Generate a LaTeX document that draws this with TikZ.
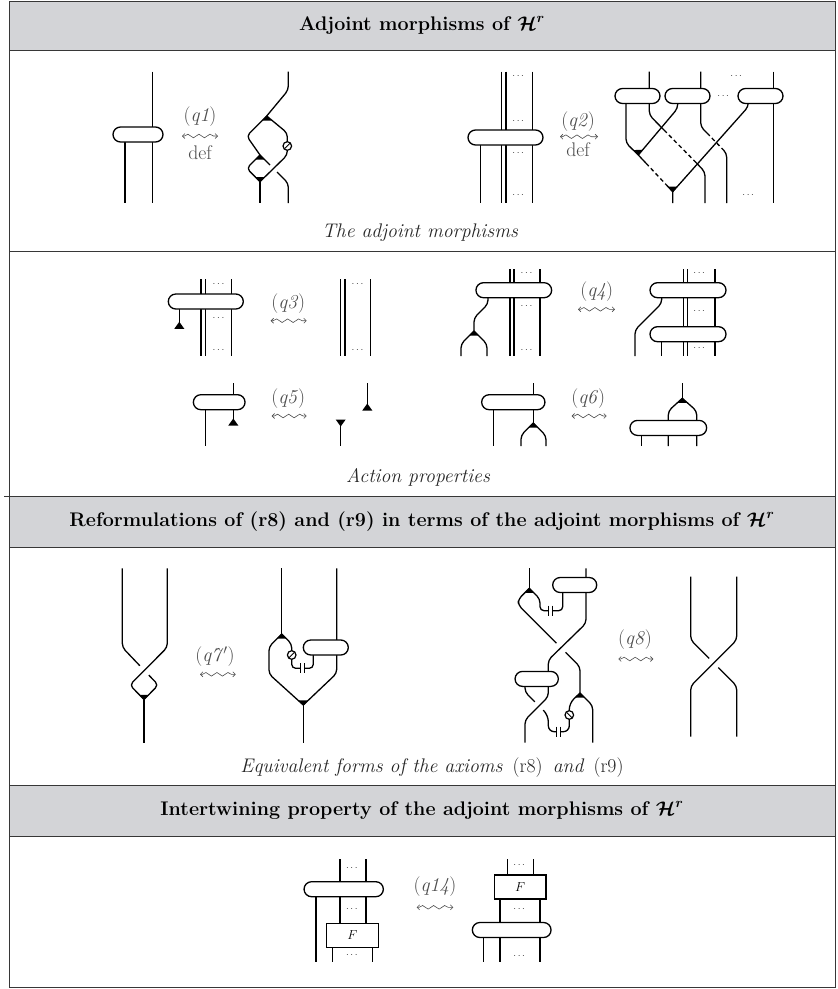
\RequirePackage{fix-cm}
\documentclass[tikz,border=0pt]{standalone}
\usepackage{amsmath,amssymb,bm}
\usetikzlibrary{decorations.pathmorphing,arrows.meta}
\definecolor{hdr}{RGB}{211,212,215}
\definecolor{frm}{RGB}{55,55,55}
\begin{document}
\begin{tikzpicture}[x=1pt,y=-1pt,
  st/.style={line width=1.3pt, line join=round},
  rc/.style={rounded corners=4pt},
  oval/.style={draw, line width=1.3pt, fill=white, rounded corners=7.5pt, minimum height=15pt, inner sep=0pt, outer sep=0pt},
  fbx/.style={draw, line width=1.3pt, fill=white, minimum height=24pt, inner sep=0pt, outer sep=0pt, font=\fontsize{13}{13}\selectfont},
  lab/.style={text=black!70, font=\fontsize{19.7}{20}\selectfont, inner sep=0pt},
  captn/.style={text=black!85, font=\fontsize{19.7}{20}\selectfont\itshape, inner sep=0pt},
  hd/.style={font=\fontsize{19.7}{20}\selectfont\bfseries, inner sep=0pt},
  dts/.style={text=black!80, font=\fontsize{10}{10}\selectfont, inner sep=0pt},
  sq/.style={black!70, line width=0.6pt, {Straight Barb[length=2.5pt,width=5pt]}-{Straight Barb[length=2.5pt,width=5pt]}, decorate, decoration={snake, amplitude=1.8pt, segment length=11pt, pre length=2.5pt, post length=2.5pt}},
  bord/.style={draw=frm, line width=1pt},
  dlt/.pic={\fill (0,-0.6)--(-4.8,4.6)--(4.8,4.6)--cycle;},
  mlt/.pic={\fill (0,0.6)--(-4.8,-4.6)--(4.8,-4.6)--cycle;},
  cnt/.pic={\fill (0,-6.5)--(-5,0.5)--(5,0.5)--cycle;},
  unt/.pic={\fill (0,6.5)--(-5,-0.5)--(5,-0.5)--cycle;},
  antR/.pic={\draw[line width=1.2pt, fill=white] (0,0) circle (4.3); \draw[line width=0.9pt] (-2.7,2.7)--(2.7,-2.7);},
  antL/.pic={\draw[line width=1.2pt, fill=white] (0,0) circle (4.3); \draw[line width=0.9pt] (-2.7,-2.7)--(2.7,2.7);},
  capH/.pic={\fill[white] (-1.8,-5) rectangle (1.8,5); \draw[line width=1pt] (-1.8,-5)--(-1.8,5) (1.8,-5)--(1.8,5);},
]
\useasboundingbox (0,0) rectangle (838,989);
% ---------- frame and headers
\fill[hdr] (9,1) rectangle (835,50);
\fill[hdr] (9,496) rectangle (835,547);
\fill[hdr] (9,785) rectangle (835,836);
\draw[bord] (9,1) rectangle (835,987);
\draw[bord] (9,50)--(835,50);
\draw[bord] (9,251)--(835,251);
\draw[bord] (4,496)--(835,496);
\draw[bord] (9,547)--(835,547);
\draw[bord] (9,785)--(835,785);
\draw[bord] (9,836)--(835,836);
\node[hd] (h1) at (422,25) {Adjoint morphisms of $\bm{\mathcal{H}^{r}}$};
\node[hd] (h2) at (422,521.5) {Reformulations of (r8) and (r9) in terms of the adjoint morphisms of $\bm{\mathcal{H}^{r}}$};
\node[hd] (h3) at (422,810.5) {Intertwining property of the adjoint morphisms of $\bm{\mathcal{H}^{r}}$};

% ---------- q1
\draw[st] (152.7,71.7)--(152.7,203);
\draw[st] (125,142)--(125,203);
\node[oval, minimum width=50pt] (o1) at (138,134.5) {};
\node[lab] (l1) at (200,117) {(\textit{q1})};
\draw[sq] (182,136)--(218,136);
\node[lab] (d1) at (200,153) {def};
\draw[st,rc] (288.3,71.7)--(288.3,90)--(266.7,116);
\draw[st,rc] (266.7,116)--(246.7,136)--(260,155);
\draw[st,rc] (266.7,116)--(287.3,133)--(287.3,155)--(260,181.7);
\draw[st,rc] (260,155)--(246.7,168.3)--(260,181.7);
\draw[st] (260,155)--(270,165);
\draw[st,rc] (277,172)--(288.3,183.3)--(288.3,203);
\draw[st] (260,181.7)--(260,203);
\pic at (266.7,116) {dlt};
\pic at (260,155) {dlt};
\pic at (260,181.7) {mlt};
\pic at (287.3,146) {antR};

% ---------- q2 left
\draw[st] (501.7,71.7)--(501.7,203);
\draw[st] (506,71.7)--(506,203);
\draw[st] (532.7,71.7)--(532.7,203);
\draw[st] (480.7,140)--(480.7,203);
\node[oval, minimum width=75pt] (o2) at (505.5,137.5) {};
\node[dts] at (519,76.7) {$\cdots$};
\node[dts] at (519,121.7) {$\cdots$};
\node[dts] at (519,153) {$\cdots$};
\node[dts] at (519,195) {$\cdots$};
\node[lab] (l2) at (578,121.7) {(\textit{q2})};
\draw[sq] (560,136.7)--(598,136.7);
\node[lab] (d2) at (578,150) {def};
% ---------- q2 right
\draw[st,rc] (649.3,71.7)--(649.3,115)--(664,130);
\draw[st,dash pattern=on 4pt off 3pt] (664,130)--(696,162.5);
\draw[st,rc] (696,162.5)--(705,172)--(705,203);
\draw[st,rc] (626,96)--(626,143)--(638.3,155);
\draw[st,rc] (677.7,96)--(677.7,108.3)--(638.3,155);
\draw[st] (638.3,155)--(646,163.2);
\draw[st,dash pattern=on 4pt off 3pt] (646,163.2)--(666,184.5);
\draw[st] (666,184.5)--(672.7,191.7)--(672.7,203);
\draw[st,rc] (700.7,71.7)--(700.7,126.7)--(707,133);
\draw[st,dash pattern=on 4pt off 3pt] (707,133)--(723,149.5);
\draw[st,rc] (723,149.5)--(726.7,153.3)--(726.7,203);
\draw[st,rc] (748.3,96)--(748.3,106.7)--(672.7,191.7);
\draw[st] (773.3,71.7)--(773.3,203);
\node[oval, minimum width=45pt] (o21) at (637.5,96) {};
\node[oval, minimum width=45pt] (o22) at (687.5,96) {};
\node[oval, minimum width=45pt] (o23) at (760.5,96) {};
\node[dts] at (737,76.7) {$\cdots$};
\node[dts] at (724,96) {$\cdots$};
\node[dts] at (749,195) {$\cdots$};
\fill (638.3,155.6)--(633.4,150.1)--(642.8,149.7)--cycle;
\fill (672.7,192.3)--(667.9,186.6)--(677.3,186.5)--cycle;

\node[captn] (c1) at (420,233) {The adjoint morphisms};

% ---------- q3
\draw[st] (201,279.3)--(201,356);
\draw[st] (205.7,279.3)--(205.7,356);
\draw[st] (231.7,279.3)--(231.7,356);
\draw[st] (179.3,305)--(179.3,328);
\node[oval, minimum width=75pt] (o3) at (205.8,301.5) {};
\pic at (179.3,328.3) {cnt};
\node[dts] at (219.3,284) {$\cdots$};
\node[dts] at (219.3,318.3) {$\cdots$};
\node[dts] at (219.3,350) {$\cdots$};
\node[lab] (l3) at (288.3,303.3) {(\textit{q3})};
\draw[sq] (270.7,320.7)--(306.7,320.7);
\draw[st] (340.7,279.3)--(340.7,356);
\draw[st] (345,279.3)--(345,356);
\draw[st] (370.7,279.3)--(370.7,356);
\node[dts] at (358.3,284) {$\cdots$};
\node[dts] at (358.3,350) {$\cdots$};

% ---------- q4
\draw[st] (510,269.3)--(510,356);
\draw[st] (514,269.3)--(514,356);
\draw[st] (540,269.3)--(540,356);
\draw[st,rc] (488,292)--(488,304)--(474,318)--(474,331);
\draw[st,rc] (474,331)--(461,344)--(461,356);
\draw[st,rc] (474,331)--(487,344)--(487,356);
\pic at (474,331) {dlt};
\node[oval, minimum width=75.7pt] (o4) at (513.8,290.2) {};
\node[dts] at (527.3,273.3) {$\cdots$};
\node[dts] at (527.3,306) {$\cdots$};
\node[dts] at (527.3,350) {$\cdots$};
\node[lab] (l4) at (596.7,291.7) {(\textit{q4})};
\draw[sq] (578,309.3)--(615,309.3);
\draw[st] (683.3,269.3)--(683.3,356);
\draw[st] (687.3,269.3)--(687.3,356);
\draw[st] (715,269.3)--(715,356);
\draw[st,rc] (661.7,292)--(661.7,303.3)--(635,330)--(635,356);
\draw[st] (661.7,336)--(661.7,356);
\node[oval, minimum width=76pt] (o41) at (688,290.2) {};
\node[oval, minimum width=76pt] (o42) at (688,334.2) {};
\node[dts] at (700,273.3) {$\cdots$};
\node[dts] at (700,311.7) {$\cdots$};
\node[dts] at (700,348.3) {$\cdots$};

% ---------- q5
\draw[st] (233.3,383.3)--(233.3,425);
\draw[st] (205.7,405)--(205.7,446);
\node[oval, minimum width=51.7pt] (o5) at (219.2,402.2) {};
\pic at (233.3,425) {cnt};
\node[lab] (l5) at (288.3,398.3) {(\textit{q5})};
\draw[sq] (271.7,416)--(306.7,416);
\draw[st] (340.7,420)--(340.7,446);
\pic at (340.7,420) {unt};
\draw[st] (367.3,383.3)--(367.3,410);
\pic at (367.3,410) {cnt};

% ---------- q6
\draw[st] (533.3,383.3)--(533.3,423);
\draw[st,rc] (533.3,423)--(521,435.3)--(521,446);
\draw[st,rc] (533.3,423)--(546,435.7)--(546,446);
\pic at (533.3,423) {dlt};
\draw[st] (493.3,405)--(493.3,446);
\node[oval, minimum width=63.3pt] (o6) at (513.3,402.2) {};
\node[lab] (l6) at (588.3,398.3) {(\textit{q6})};
\draw[sq] (571.7,416)--(606.7,416);
\draw[st] (682.3,383.3)--(682.3,398.3);
\draw[st,rc] (682.3,398.3)--(668.3,411)--(668.3,446);
\draw[st,rc] (682.3,398.3)--(696.7,411)--(696.7,446);
\draw[st] (641.7,428)--(641.7,446);
\pic at (682.3,398.3) {dlt};
\node[oval, minimum width=76.7pt] (o61) at (668.3,427.9) {};

\node[captn] (c2) at (418,477) {Action properties};

% ---------- q7'
\draw[st,rc] (167.3,568.3)--(167.3,647.3)--(129.8,685)--(144,699.5);
\draw[st,rc] (122.3,568.3)--(122.3,647.3)--(139.8,665.7);
\draw[st,rc] (148.8,675.1)--(158.3,685)--(144,699.5);
\draw[st] (144,699.5)--(144,742.7);
\pic at (144,699.5) {mlt};
\node[lab] (l7) at (215,656.7) {(\textit{q7}$'$)};
\draw[sq] (200,674.3)--(235.7,674.3);
\draw[st] (281.7,568.3)--(281.7,634);
\draw[st,rc] (281.7,634)--(269,646.7)--(269,674)--(303.3,705);
\draw[st,rc] (281.7,634)--(291.7,644)--(291.7,668.3)--(313.3,668.3)--(313.3,650);
\draw[st,rc] (336.7,568.3)--(336.7,673.3)--(303.3,705);
\draw[st] (303.3,705)--(303.3,742.7);
\pic at (281.7,634) {dlt};
\pic at (303.3,705) {mlt};
\pic at (291.7,655) {antR};
\pic at (302.7,668.3) {capH};
\node[oval, minimum width=45pt] (o7) at (325.8,647.5) {};

% ---------- q8
\draw[st] (529.3,568.3)--(529.3,588.3);
\draw[st,rc] (529.3,588.3)--(518.3,599.3)--(518.3,605)--(556.4,643.1);
\draw[st,rc] (565.6,652.3)--(580,666.7)--(580,693);
\draw[st,rc] (529.3,588.3)--(540,599)--(540,610.7)--(562.7,610.7)--(562.7,588);
\draw[st,rc] (586,568.3)--(586,623.3)--(548.3,660)--(548.3,675);
\draw[st,rc] (525,682)--(525,692)--(534.8,701.8);
\draw[st,rounded corners=6pt] (543.2,710.2)--(548.3,715.5)--(548.3,731.7)--(569.3,731.7)--(569.3,703.3)--(580,693);
\draw[st,rc] (548.3,682)--(548.3,696.7)--(525,720)--(525,742.7);
\draw[st,rc] (580,693)--(592.7,705.7)--(592.7,742.7);
\pic at (529.3,588.3) {dlt};
\pic at (580,693) {dlt};
\pic at (550.7,610.7) {capH};
\pic at (558.3,731.7) {capH};
\pic at (569.3,715) {antL};
\node[oval, minimum width=44pt] (o81) at (574.7,585) {};
\node[oval, minimum width=43.3pt] (o82) at (536.7,678.9) {};
\node[lab] (l8) at (635,640) {(\textit{q8})};
\draw[sq] (618.3,659)--(653.3,659);
\draw[st,rc] (736.7,576.7)--(736.7,640)--(690.7,686)--(690.7,736.7);
\draw[st,rc] (690.7,576.7)--(690.7,640)--(709.1,658.4);
\draw[st,rc] (718.3,667.6)--(736.7,686)--(736.7,736.7);

\node[captn] (c3) at (432,768) {Equivalent forms of the axioms \,\textup{(r8)}\, and \,\textup{(r9)}};

% ---------- q14
\draw[st] (340,859.3)--(340,923.3);
\draw[st] (366,859.3)--(366,923.3);
\draw[st] (316,889)--(316,961.7);
\draw[st] (332.3,940)--(332.3,961.7);
\draw[st] (372.3,940)--(372.3,961.7);
\node[oval, minimum width=79.3pt] (o14) at (343.7,889.2) {};
\node[fbx, minimum width=51.6pt] (f1) at (352.5,935.3) {$F$};
\node[dts] at (352.7,868.3) {$\cdots$};
\node[dts] at (352.7,909.3) {$\cdots$};
\node[dts] at (352.7,955) {$\cdots$};
\node[lab] (l14) at (435,886.7) {(\textit{q14})};
\draw[sq] (416.7,907.3)--(453.3,907.3);
\draw[st] (507.7,859.3)--(507.7,880);
\draw[st] (533.3,859.3)--(533.3,880);
\draw[st] (500,895)--(500,961.7);
\draw[st] (540,895)--(540,961.7);
\draw[st] (483.3,930)--(483.3,961.7);
\node[fbx, minimum width=51.7pt] (f2) at (520.2,887) {$F$};
\node[oval, minimum width=78.7pt] (o142) at (511.7,930) {};
\node[dts] at (520,865) {$\cdots$};
\node[dts] at (520,909.3) {$\cdots$};
\node[dts] at (520,956) {$\cdots$};
\end{tikzpicture}
\end{document}
